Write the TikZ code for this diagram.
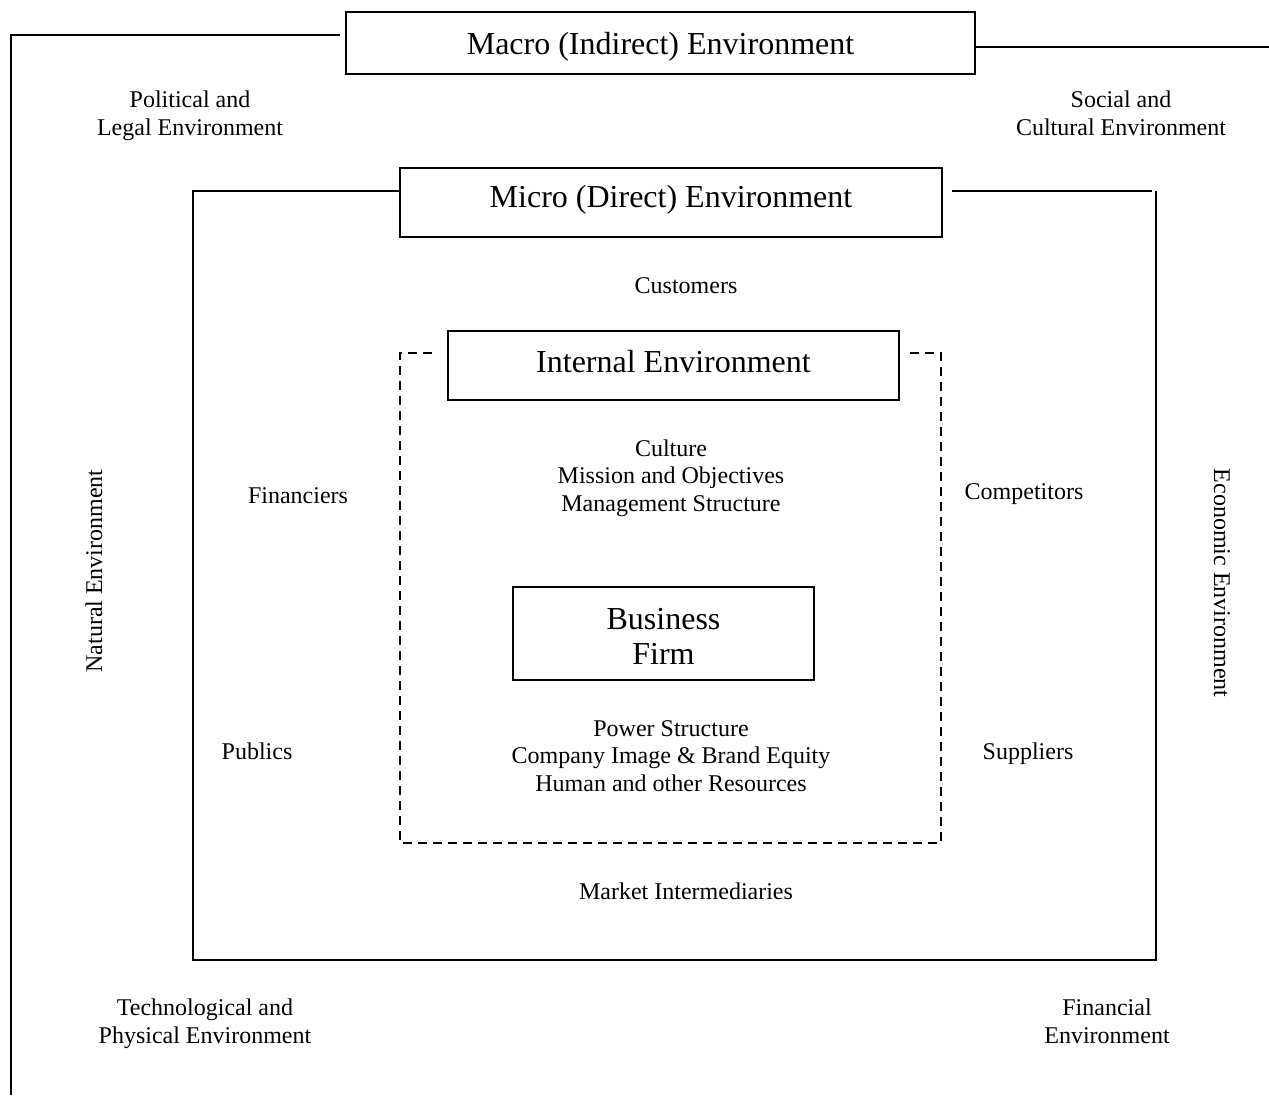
\documentclass[tikz,border=0pt]{standalone}
\usepackage{fontspec}
\setmainfont{Liberation Serif}
\begin{document}
\begin{tikzpicture}[x=1pt,y=-1pt,
  frame/.style={line width=1.7pt, black},
  titlebox/.style={draw, line width=1.7pt, inner sep=0pt, align=center, font=\fontsize{32}{36}\selectfont},
  lbl/.style={align=center, inner sep=0pt, font=\fontsize{24}{27.6}\selectfont},
  dashframe/.style={line width=1.7pt, dash pattern=on 9pt off 6pt}
]
\useasboundingbox (0,0) rectangle (1269,1095);

% Macro frame
\node[titlebox, minimum width=629, minimum height=62, text height=22.8pt, text depth=0pt] (macro) at (660.5,43) {Macro (Indirect) Environment};
\coordinate (macroL1) at (340,35);
\coordinate (macroL2) at (11,35);
\coordinate (macroL3) at (11,1095);
\coordinate (macroR) at (1269,47);
\draw[frame] (macroL1) -- (macroL2) -- (macroL3);
\draw[frame] (macro.east |- macroR) -- (macroR);

% Micro frame
\node[titlebox, minimum width=542, minimum height=69, text height=20pt, text depth=9.2pt] (micro) at (671,202.5) {Micro (Direct) Environment};
\coordinate (microTL) at (193,191);
\coordinate (microBL) at (193,960);
\coordinate (microBR) at (1156,960);
\coordinate (microTR) at (1156,191);
\coordinate (microRs) at (952,191);
\draw[frame] (micro.west |- microTL) -- (microTL) -- (microBL) -- (microBR) -- (microTR);
\draw[frame] (microRs) -- ([xshift=-4pt]microTR);

% Internal frame
\node[titlebox, minimum width=451, minimum height=69, text height=20pt, text depth=6.2pt] (internal) at (673.5,365.5) {Internal Environment};
\coordinate (intA) at (432,353);
\coordinate (intTL) at (400,353);
\coordinate (intBL) at (400,843);
\coordinate (intBR) at (941,843);
\coordinate (intTR) at (941,353);
\coordinate (intB) at (906,353);
\draw[dashframe] (intA) -- (intTL) -- (intBL) -- (intBR) -- (intTR) -- (intB);

% Business firm
\node[titlebox, minimum width=301, minimum height=93] (firm) at (663.5,633.5) {\rule{0pt}{27pt}Business\\[-1pt]Firm};

% Macro labels
\node[lbl] (pol) at (190,116) {Political and\\Legal Environment};
\node[lbl] (soc) at (1121,113.5) {Social and\\Cultural Environment};
\node[lbl, rotate=90] (nat) at (94,571) {Natural Environment};
\node[lbl, rotate=-90] (eco) at (1222,583) {Economic Environment};
\node[lbl] (tech) at (205,1024) {Technological and\\Physical Environment};
\node[lbl] (fin) at (1107,1021) {Financial\\Environment};

% Micro labels
\node[lbl] (cust) at (686,286) {Customers};
\node[lbl] (finc) at (298,496) {Financiers};
\node[lbl] (comp) at (1024,494) {Competitors};
\node[lbl] (pub) at (257,751) {Publics};
\node[lbl] (supp) at (1028,754) {Suppliers};
\node[lbl] (mkt) at (686,891) {Market Intermediaries};

% Internal labels
\node[lbl] (cult) at (671,478) {Culture\\Mission and Objectives\\Management Structure};
\node[lbl] (power) at (671,756) {Power Structure\\Company Image \& Brand Equity\\Human and other Resources};
\end{tikzpicture}
\end{document}
